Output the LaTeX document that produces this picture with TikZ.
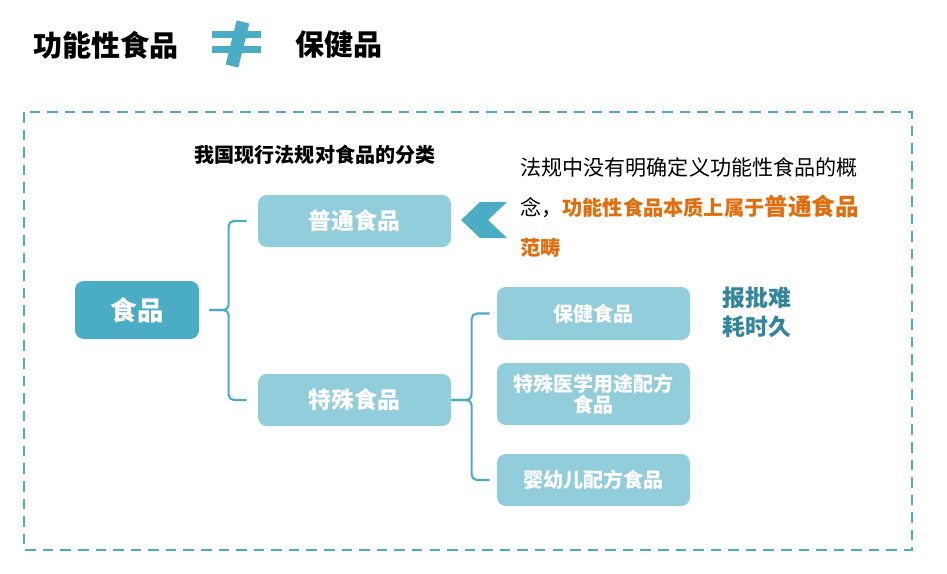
\documentclass[tikz,border=0pt]{standalone}
\usepackage{fontspec}
\setmainfont{Noto Sans CJK SC}
\usepackage{xcolor}
\usepackage{tikz}
\usetikzlibrary{calc}
\definecolor{tealA}{HTML}{4BACC6}
\definecolor{tealL}{HTML}{92CDDC}
\definecolor{tealD}{HTML}{31859C}
\definecolor{noteOrange}{HTML}{E46C0A}

\begin{document}
\begin{tikzpicture}[font=\footnotesize,
  bx/.style={rounded corners=5pt, fill=tealL, text=white, font=\fontsize{11.4}{14}\selectfont\bfseries,
    minimum width=3.86cm, minimum height=1.04cm, align=center, inner sep=2pt},
  brc/.style={draw=tealA, line width=1.2pt, rounded corners=3pt}]
\useasboundingbox (0,0) rectangle (18.94,-11.46);
% title
\node[anchor=west, inner sep=0, font=\fontsize{16.5}{18}\selectfont\bfseries] (T1) at (0.66,-0.9) {功能性食品};
\fill[tealA] (4.24,-0.62) rectangle (5.22,-0.75);
\fill[tealA] (4.24,-0.92) rectangle (5.22,-1.05);
\draw[tealA, line width=0.26cm] (4.86,-0.44) -- (4.64,-1.32);
\node[anchor=west, inner sep=0, font=\fontsize{16.5}{18}\selectfont\bfseries] (T2) at (5.9,-0.9) {保健品};
% frame
\draw[tealA, line width=1.1pt, dash pattern=on 6pt off 4pt] (0.48,-2.24) rectangle (18.24,-11.0);
\node[font=\fontsize{11.4}{14}\selectfont\bfseries] (cap) at (6.3,-3.1) {我国现行法规对食品的分类};
% tree
\node[bx, fill=tealA, minimum width=2.48cm, minimum height=1.16cm, font=\fontsize{15}{18}\selectfont\bfseries] (F) at (2.74,-6.2) {食品};
\node[bx, font=\fontsize{13}{16}\selectfont\bfseries] (G) at (7.09,-4.42) {普通食品};
\node[bx, font=\fontsize{13}{16}\selectfont\bfseries] (S) at (7.09,-8.0) {特殊食品};
\node[bx, minimum height=1.06cm] (H) at (11.87,-6.27) {保健食品};
\node[bx, minimum height=1.24cm] (M) at (11.87,-7.88) {特殊医学用途配方\\[-2pt]食品};
\node[bx] (I) at (11.87,-9.6) {婴幼儿配方食品};
\draw[brc] ($(G.west)+(-0.22,0)$) -- ++(-0.36,0) |- ($(F.east)+(0.2,0)$);
\draw[brc] ($(S.west)+(-0.22,0)$) -- ++(-0.36,0) |- ($(F.east)+(0.2,0)$);
\draw[brc] ($(H.west)+(-0.14,0)$) -- ++(-0.36,0) |- (S.east);
\draw[brc] ($(I.west)+(-0.14,0)$) -- ++(-0.36,0) |- (S.east);
\node[anchor=north west, inner sep=0, align=left, text=tealD, font=\fontsize{13}{16.5}\selectfont\bfseries] (R) at (14.44,-5.74) {报批难\\耗时久};
% note
\fill[tealA] (9.22,-4.4) -- (9.6,-4.04) -- (10.14,-4.04) -- (9.76,-4.4) -- (10.14,-4.76) -- (9.6,-4.76) -- cycle;
\node[anchor=north west, inner sep=0, align=left, font=\fontsize{12}{22.8}\selectfont] (N) at (10.4,-3.14)
  {法规中没有明确定义功能性食品的概\\
   念，{\color{noteOrange}\bfseries\fontsize{11.5}{22.8}\selectfont 功能性食品本质上属于{\fontsize{13.4}{22.8}\selectfont 普通食品}}\\
   {\color{noteOrange}\bfseries\fontsize{11.5}{22.8}\selectfont 范畴}};
\end{tikzpicture}
\end{document}
